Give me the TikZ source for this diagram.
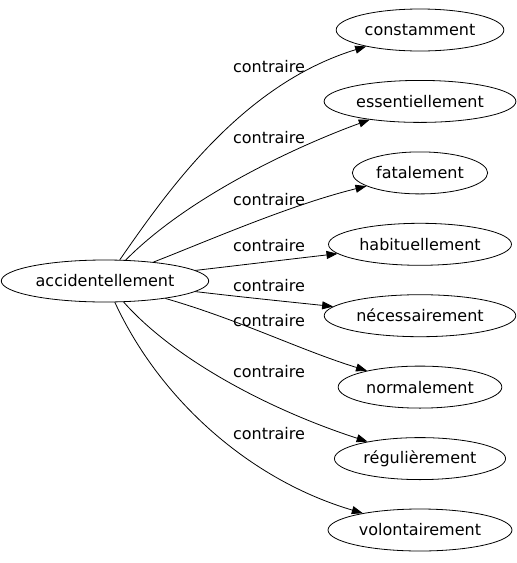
\documentclass[tikz,border=0pt]{standalone}
\usepackage{fontspec}
\setmainfont{DejaVu Sans}
\usetikzlibrary{arrows.meta,shapes.geometric}
\begin{document}
\begin{tikzpicture}[x=1pt,y=-1pt,
  word/.style={draw,ellipse,line width=0.8pt,minimum height=42pt,inner xsep=4pt,inner ysep=0pt,font=\fontsize{16}{18}\selectfont},
  lab/.style={font=\fontsize{16}{18}\selectfont,inner sep=0pt},
  rel/.style={line width=0.8pt,-{Triangle[length=11pt,width=8pt]}}]
\useasboundingbox (0,0) rectangle (517,563);
\node[word] (src) at (105,281) {accidentellement};
\node[word] (t1) at (420,30) {constamment};
\node[word] (t2) at (420,101.4) {essentiellement};
\node[word] (t3) at (420,172.9) {fatalement};
\node[word] (t4) at (420,244.3) {habituellement};
\node[word] (t5) at (420,315.7) {nécessairement};
\node[word] (t6) at (420,387.1) {normalement};
\node[word] (t7) at (420,458.6) {régulièrement};
\node[word] (t8) at (420,530) {volontairement};
\node[lab] (l1) at (269,67) {contraire};
\node[lab] (l2) at (269,138) {contraire};
\node[lab] (l3) at (269,200) {contraire};
\node[lab] (l4) at (269,246) {contraire};
\node[lab] (l5) at (269,286) {contraire};
\node[lab] (l6) at (269,321) {contraire};
\node[lab] (l7) at (269,372) {contraire};
\node[lab] (l8) at (269,434) {contraire};
\draw[rel] (src) .. controls (165,195) and (240,85) .. (t1);
\draw[rel] (src) .. controls (190,195) and (300,145) .. (t2);
\draw[rel] (src) .. controls (210,240) and (290,205) .. (t3);
\draw[rel] (src) .. controls (250,264) and (300,258) .. (t4);
\draw[rel] (src) .. controls (250,298) and (300,303) .. (t5);
\draw[rel] (src) .. controls (240,320) and (300,350) .. (t6);
\draw[rel] (src) .. controls (175,360) and (270,410) .. (t7);
\draw[rel] (src) .. controls (160,400) and (250,480) .. (t8);
\end{tikzpicture}
\end{document}
